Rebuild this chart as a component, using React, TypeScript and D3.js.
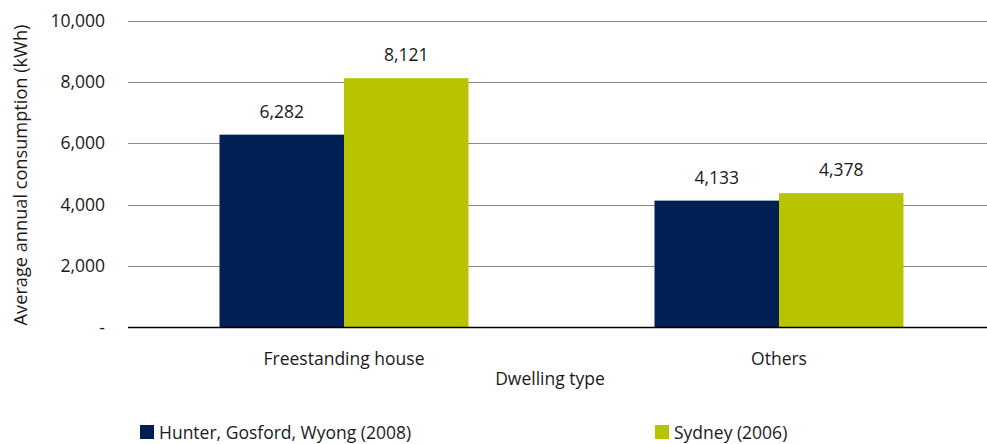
import React from "react";
import * as d3 from "d3";

const categories = ["Freestanding house", "Others"];
const seriesNames = ["Hunter, Gosford, Wyong (2008)", "Sydney (2006)"];
const hunterValues = [6282, 4133];
const sydneyValues = [8121, 4378];
const yTicks = [0, 2000, 4000, 6000, 8000, 10000];

const WIDTH = 987;
const HEIGHT = 444;
const COLORS = ["#001f52", "#b8c400"];
const FONT = "'Open Sans', sans-serif";
const FS = 17.5;
const TEXT = "#1a1a1a";

export default function App() {
  const plotLeft = 128;
  const y = d3.scaleLinear().domain([0, 10000]).range([327.5, 20.5]);
  const x0 = d3
    .scaleBand<string>()
    .domain(categories)
    .range([126.5, 996.5])
    .paddingInner(0.4276)
    .paddingOuter(0.2138);
  const x1 = d3
    .scaleBand<number>()
    .domain([0, 1])
    .range([0, x0.bandwidth()]);

  const series = [hunterValues, sydneyValues];
  const fmt = d3.format(",");
  const tickFmt = (v: number) => (v === 0 ? "-" : fmt(v));

  return (
    <svg
      width={WIDTH}
      height={HEIGHT}
      style={{ position: "absolute", left: 0, top: 0, background: "#fff" }}
      fontFamily={FONT}
    >
      {/* gridlines */}
      {yTicks
        .filter((t) => t !== 0)
        .map((t) => (
          <line
            key={t}
            x1={plotLeft}
            x2={WIDTH}
            y1={Math.round(y(t)) + 0.5}
            y2={Math.round(y(t)) + 0.5}
            stroke="#8a8a8a"
            strokeWidth={1.2}
          />
        ))}
      {/* y tick labels */}
      {yTicks.map((t) => (
        <text
          key={t}
          x={105}
          y={y(t)}
          dy="0.35em"
          textAnchor="end"
          fontSize={FS}
          fill={TEXT}
        >
          {tickFmt(t)}
        </text>
      ))}
      {/* bars */}
      {categories.map((c, ci) =>
        series.map((vals, si) => {
          const bx = (x0(c) ?? 0) + (x1(si) ?? 0);
          return (
            <rect
              key={c + si}
              x={bx}
              y={y(vals[ci])}
              width={x1.bandwidth()}
              height={y(0) - y(vals[ci])}
              fill={COLORS[si]}
            />
          );
        })
      )}
      {/* value labels */}
      {categories.map((c, ci) =>
        series.map((vals, si) => {
          const cx = (x0(c) ?? 0) + (x1(si) ?? 0) + x1.bandwidth() / 2;
          return (
            <text
              key={"l" + c + si}
              x={cx}
              y={y(vals[ci]) - 17}
              textAnchor="middle"
              fontSize={FS}
              fill={TEXT}
            >
              {fmt(vals[ci])}
            </text>
          );
        })
      )}
      {/* baseline */}
      <line
        x1={plotLeft}
        x2={WIDTH}
        y1={y(0)}
        y2={y(0)}
        stroke="#000"
        strokeWidth={1.3}
      />
      {/* category labels */}
      {categories.map((c) => (
        <text
          key={"c" + c}
          x={(x0(c) ?? 0) + x0.bandwidth() / 2}
          y={365}
          textAnchor="middle"
          fontSize={FS}
          fill={TEXT}
        >
          {c}
        </text>
      ))}
      <text x={550} y={385} textAnchor="middle" fontSize={FS} fill={TEXT}>
        Dwelling type
      </text>
      <text
        transform={`translate(27, 175) rotate(-90)`}
        textAnchor="middle"
        fontSize={18.2}
        fill={TEXT}
      >
        Average annual consumption (kWh)
      </text>
      {/* legend */}
      {seriesNames.map((name, i) => {
        const lx = [140, 655][i];
        return (
          <g key={name}>
            <rect x={lx} y={425} width={14} height={14} fill={COLORS[i]} />
            <text x={lx + 19} y={439} fontSize={FS} fill={TEXT}>
              {name}
            </text>
          </g>
        );
      })}
    </svg>
  );
}
